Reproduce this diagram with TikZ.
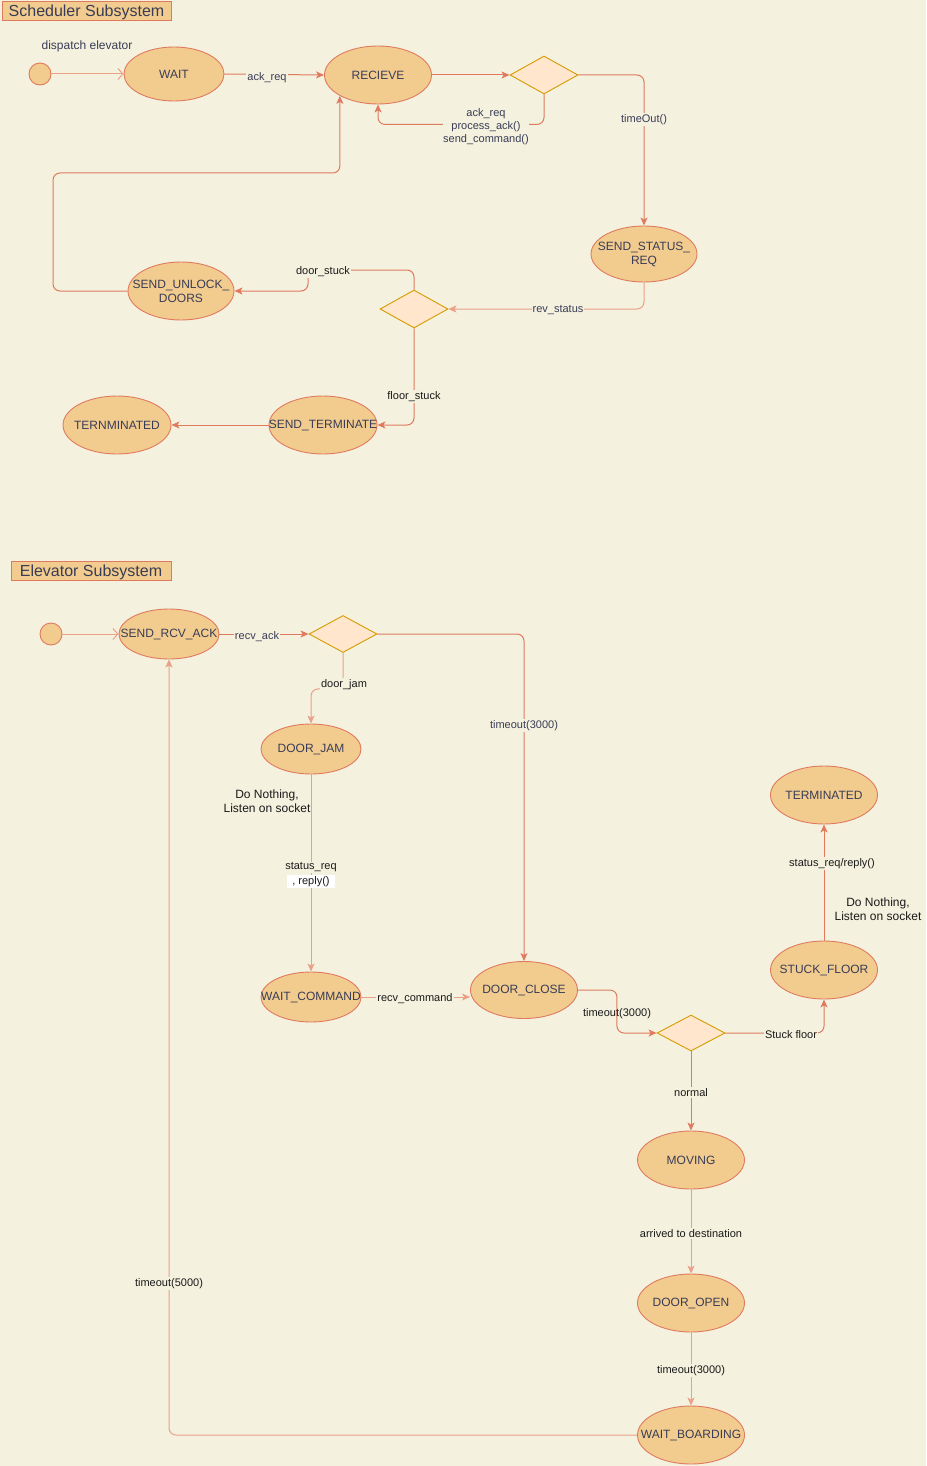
\documentclass[tikz,border=0pt]{standalone}
\usepackage{fontspec}
\setmainfont{Liberation Sans}
\usetikzlibrary{shapes.geometric,arrows.meta}

\definecolor{bg}{HTML}{F4F1DE}
\definecolor{edgec}{HTML}{E07A5F}
\definecolor{edgelt}{HTML}{EBA088}
\definecolor{statefill}{HTML}{F2CC8F}
\definecolor{txtc}{HTML}{393C56}
\definecolor{decfill}{HTML}{FFE6CC}
\definecolor{decline}{HTML}{D79B00}
\definecolor{labk}{HTML}{1A1A1A}

\tikzset{
  state/.style={ellipse, draw=edgec, fill=statefill, line width=0.9pt, inner sep=0pt,
                minimum width=107pt, minimum height=58pt},
  small/.style={minimum width=100pt, minimum height=50pt},
  stxt/.style={text=txtc, font=\fontsize{12}{14}\selectfont, align=center, inner sep=0pt},
  choice/.style={diamond, draw=decline, fill=decfill, line width=0.9pt, inner sep=0pt,
                 minimum width=68pt, minimum height=38pt},
  initial/.style={circle, draw=edgec, fill=statefill, line width=0.9pt, minimum size=22pt, inner sep=0pt},
  title/.style={rectangle, draw=edgec, fill=statefill, line width=0.9pt, text=txtc,
                font=\fontsize{16}{18}\selectfont, inner sep=0pt, text depth=0pt},
  tr/.style={draw=edgec, line width=1pt, rounded corners=7pt,
             -{Stealth[length=8pt, width=7pt, inset=2pt]}},
  trl/.style={tr, draw=edgelt},
  start/.style={draw=edgelt, line width=1pt, -{Straight Barb[length=5pt, width=11pt]}},
  lab/.style={fill=bg, inner sep=1pt, text=txtc, font=\fontsize{11}{13}\selectfont, align=center,
              yshift=-1.5pt},
  labb/.style={lab, text=labk},
  note/.style={text=labk, font=\fontsize{12}{14}\selectfont, align=center, inner sep=0pt},
}

\begin{document}
\begin{tikzpicture}[x=1pt, y={(0pt,-1pt)}]
  \fill[bg] (0,0) rectangle (926,1466);
  \useasboundingbox (0,0) rectangle (926,1466);

  % ---------------- Scheduler subsystem ----------------
  \node[title, minimum width=169pt, minimum height=19pt] (schedtitle) at (86.5,10.5) {Scheduler Subsystem};

  \node[initial] (sinit) at (40,74) {};
  \node[state, minimum width=100pt, minimum height=54pt] (wait) at (174,74) {};
  \node[stxt] (waitt) at (wait) {WAIT};
  \node[state] (recv) at (378,75) {};
  \node[stxt] (recvt) at (recv) {RECIEVE};
  \node[choice] (d1) at (544,75) {};
  \node[state, minimum width=106pt, minimum height=56pt] (status) at (644,254) {};
  \node[stxt] (statust) at (status) {SEND\_STATUS\_\\REQ};
  \node[choice] (d2) at (414,309) {};
  \node[state, minimum width=106pt] (unlock) at (181,291) {};
  \node[stxt] (unlockt) at (unlock) {SEND\_UNLOCK\_\\DOORS};
  \node[state, minimum width=108pt] (sendterm) at (323,425) {};
  \node[stxt] (sendtermt) at (sendterm) {SEND\_TERMINATE};
  \node[state, minimum width=108pt] (sterm) at (117,425) {};
  \node[stxt] (stermt) at (sterm) {TERNMINATED};

  \draw[start] (sinit) -- (wait.west);
  \draw[tr] (wait.east) -- (recv.west);
  \draw[tr] (recv.east) -- (d1.west);
  \draw[tr] (d1.south) -- ++(0,30) -| (recv.south);
  \draw[tr] (d1.east) -| (status.north);
  \draw[trl] (status.south) |- (d2.east);
  \draw[tr] (d2.north) |- (308,270) |- (unlock.east);
  \draw[tr] (unlock.west) -| (53,173) -| (recv.south west);
  \draw[tr] (d2.south) |- (sendterm.east);
  \draw[tr] (sendterm.west) -- (sterm.east);

  \node[lab, fill=none, font=\fontsize{12}{14}\selectfont] (ldispatch) at (87,45) {dispatch elevator};
  \node[lab] (lackreq) at (267,76) {ack\_req};
  \node[lab, inner sep=0.5pt] (lprocess) at (486,125) {ack\_req\\process\_ack()\\send\_command()};
  \node[lab] (ltimeout) at (644,118) {timeOut()};
  \node[lab] (lrev) at (558,309) {rev\_status};
  \node[labb] (ldoorstuck) at (323,270) {door\_stuck};
  \node[labb] (lfloorstuck) at (414,395) {floor\_stuck};

  % ---------------- Elevator subsystem ----------------
  \node[title, minimum width=160pt, minimum height=19pt] (elevtitle) at (91,570.5) {Elevator Subsystem};

  \node[initial] (einit) at (51,634) {};
  \node[state, small] (ack) at (169,634) {};
  \node[stxt] (ackt) at (ack) {SEND\_RCV\_ACK};
  \node[choice, minimum height=37pt] (d3) at (343,634) {};
  \node[state, small] (jam) at (311,749) {};
  \node[stxt] (jamt) at (jam) {DOOR\_JAM};
  \node[state, small] (waitcmd) at (311,997) {};
  \node[stxt] (waitcmdt) at (waitcmd) {WAIT\_COMMAND};
  \node[state, minimum height=57pt] (close) at (524,990) {};
  \node[stxt] (closet) at (close) {DOOR\_CLOSE};
  \node[choice, minimum height=36pt] (d4) at (691,1033) {};
  \node[state] (stuck) at (824,970) {};
  \node[stxt] (stuckt) at (stuck) {STUCK\_FLOOR};
  \node[state] (eterm) at (824,795) {};
  \node[stxt] (etermt) at (eterm) {TERMINATED};
  \node[state] (moving) at (691,1160) {};
  \node[stxt] (movingt) at (moving) {MOVING};
  \node[state] (open) at (691,1303) {};
  \node[stxt] (opent) at (open) {DOOR\_OPEN};
  \node[state] (board) at (691,1435) {};
  \node[stxt] (boardt) at (board) {WAIT\_BOARDING};

  \draw[start] (einit) -- (ack.west);
  \draw[tr] (ack.east) -- (d3.west);
  \draw[trl] (d3.south) -- ++(0,36) -| (jam.north);
  \draw[tr] (d3.east) -| (close.north);
  \draw[trl] (jam.south) -- (waitcmd.north);
  \draw[trl] (waitcmd.east) -- (waitcmd.east -| close.west);
  \draw[tr] (close.east) -- ++(39,0) |- (d4.west);
  \draw[tr] (d4.east) -| (stuck.south);
  \draw[tr] (stuck.north) -- (eterm.south);
  \draw[tr] (d4.south) -- (moving.north);
  \draw[trl] (moving.south) -- (open.north);
  \draw[trl] (open.south) -- (board.north);
  \draw[trl] (board.west) -| (ack.south);

  \node[lab] (lrecvack) at (257,635) {recv\_ack};
  \node[labb] (ldoorjam) at (344,683) {door\_jam};
  \node[lab] (lto1) at (524,724) {timeout(3000)};
  \node[note] (ljamnote) at (267,801) {Do Nothing,\\Listen on socket};
  \node[labb] (lstatusreq) at (311,866) {status\_req};
  \node[labb, fill=white, inner xsep=5pt] (lreply) at (311,880) {, reply()};
  \node[labb] (lrecvcmd) at (415,997) {recv\_command};
  \node[labb, fill=none] (lto2) at (617,1012) {timeout(3000)};
  \node[labb] (lstuckfloor) at (791,1033) {Stuck floor};
  \node[labb] (lstatusreply) at (832,862) {status\_req/reply()};
  \node[note] (lstucknote) at (878,909) {Do Nothing,\\Listen on socket};
  \node[labb] (lnormal) at (691,1091) {normal};
  \node[labb] (larrived) at (691,1232) {arrived to destination};
  \node[labb] (lto3) at (691,1369) {timeout(3000)};
  \node[labb] (lto5) at (169,1282) {timeout(5000)};
\end{tikzpicture}
\end{document}
